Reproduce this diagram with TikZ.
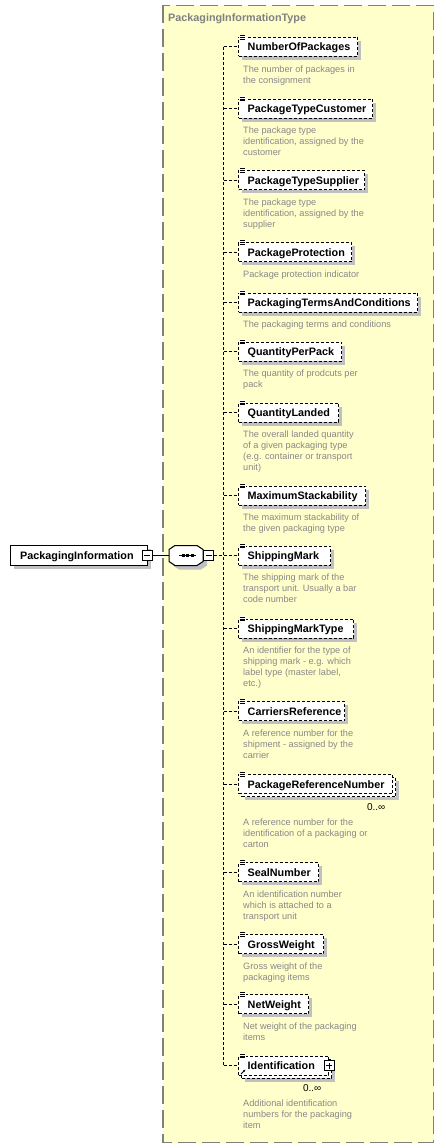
\documentclass[tikz,border=0pt]{standalone}
\usepackage{fontspec}
\setmainfont{Liberation Sans}
\usetikzlibrary{shadows,arrows.meta}
\definecolor{yel}{RGB}{255,255,204}
\definecolor{framec}{RGB}{128,128,128}
\definecolor{shadc}{RGB}{192,192,192}
\definecolor{descc}{RGB}{136,136,136}
\tikzset{
  box/.style={draw=black, line width=1pt, fill=white, inner sep=0pt, minimum height=19pt, anchor=west},
  optbox/.style={box, dash pattern=on 3pt off 2pt},
  shadowed/.style={general shadow={fill=shadc, shadow xshift=3.5pt, shadow yshift=-3.5pt}},
  lbl/.style={font=\fontsize{10.8}{13}\selectfont\bfseries, inner sep=0pt, anchor=base west},
  desctext/.style={font=\fontsize{9.2}{11}\selectfont, text=descc, inner sep=0pt, anchor=base west},
  occ/.style={font=\fontsize{10}{12}\selectfont, inner sep=0pt, anchor=base east},
  conn/.style={line width=1pt, dash pattern=on 3pt off 2pt},
  sqbox/.style={draw=black, line width=1pt, fill=white, minimum size=10pt, inner sep=0pt},
}
\newcommand\iconlines[1]{%
  \fill[white] ([shift={(1,-2.2)}]#1.north west) rectangle ++(7,5);
  \foreach \dy in {-1.3,0.4,2.1}
    \draw[line width=0.7pt] ([shift={(1.5,\dy)}]#1.north west) -- ++(5.5,0);
}
% single optional element: name, y, width, label, description lines
\newcommand\elemA[5]{%
  \node[optbox, shadowed, minimum width=#3pt] (#1) at (238,#2) {};
  \node[lbl] (#1-t) at (247.5,{#2+4}) {#4};
  \iconlines{#1}
  \foreach \dl [count=\i] in {#5}
    \node[desctext] (#1-d\i) at (243,{#2+25+11*\i-11}) {\dl};
  \draw[conn] (#1.west -| trunktop) -- (#1.west);
}
% repeated optional element
\newcommand\elemM[5]{%
  \node[optbox, shadowed, minimum width=#3pt] (#1-b) at (241,{#2+3}) {};
  \node[optbox, minimum width=#3pt] (#1) at (238,#2) {};
  \node[lbl] (#1-t) at (247.5,{#2+4}) {#4};
  \iconlines{#1}
  \node[occ] (#1-o) at ({238+#3-6.5},{#2+26}) {0..∞};
  \foreach \dl [count=\i] in {#5}
    \node[desctext] (#1-d\i) at (243,{#2+41+11*\i-11}) {\dl};
  \draw[conn] (#1.west -| trunktop) -- (#1.west);
}
\begin{document}
\begin{tikzpicture}[x=1pt,y=-1pt]
\useasboundingbox (0,0) rectangle (445,1148);
% type frame
\filldraw[fill=yel, draw=framec, line width=1.5pt, dash pattern=on 18pt off 6pt] (163,5.5) rectangle (433.5,1142.5);
\node[lbl, text=framec] (title) at (168,22) {PackagingInformationType};
% trunk
\coordinate (trunktop) at (223.5,47);
\coordinate (trunkbot) at (223.5,1065.5);
\draw[conn] (trunktop) -- (trunkbot);
% root element
\node[box, shadowed, minimum width=136.7pt, minimum height=20pt] (root) at (10,555.5) {};
\node[lbl] (root-t) at (20,559.5) {PackagingInformation};
\node[sqbox] (rootsq) at (147.2,555.5) {};
\draw[line width=1pt] ([xshift=-3pt]rootsq.center) -- ([xshift=3pt]rootsq.center);
% sequence compositor
\node[inner sep=0pt, minimum width=34pt, minimum height=20pt] (seq) at (186,555.5) {};
\begin{scope}[shift={(4,4)}]
\fill[shadc] (169,549.5)--(175,545.5)--(197,545.5)--(203,549.5)--(203,561.5)--(197,565.5)--(175,565.5)--(169,561.5)--cycle;
\end{scope}
\filldraw[fill=white, draw=black, line width=1pt] (169,549.5)--(175,545.5)--(197,545.5)--(203,549.5)--(203,561.5)--(197,565.5)--(175,565.5)--(169,561.5)--cycle;
\draw[line width=1pt] (179,555.5) -- (196,555.5);
\foreach \dx in {181.5,186,190.5} \fill (\dx,554) rectangle ++(3,3);
\node[sqbox] (seqsq) at (208.5,555.5) {};
\draw[line width=1pt] ([xshift=-3pt]seqsq.center) -- ([xshift=3pt]seqsq.center);
\draw[line width=1pt] (rootsq.east) -- (seq.west);
\draw[conn] (seqsq.east) -- (seqsq.east -| trunktop);
% children
\elemA{e1}{47}{119}{NumberOfPackages}{{The number of packages in},{the consignment}}
\elemA{e2}{108.5}{134}{PackageTypeCustomer}{{The package type},{identification, assigned by the},{customer}}
\elemA{e3}{180}{126}{PackageTypeSupplier}{{The package type},{identification, assigned by the},{supplier}}
\elemA{e4}{252}{113}{PackageProtection}{{Package protection indicator}}
\elemA{e5}{302.5}{179}{PackagingTermsAndConditions}{{The packaging terms and conditions}}
\elemA{e6}{351.5}{103}{QuantityPerPack}{{The quantity of prodcuts per},{pack}}
\elemA{e7}{412.5}{100}{QuantityLanded}{{The overall landed quantity},{of a given packaging type},{(e.g. container or transport},{unit)}}
\elemA{e8}{495.5}{127}{MaximumStackability}{{The maximum stackability of},{the given packaging type}}
\elemA{e9}{555.5}{92}{ShippingMark}{{The shipping mark of the},{transport unit. Usually a bar},{code number}}
\elemA{e10}{628.5}{115}{ShippingMarkType}{{An identifier for the type of},{shipping mark - e.g. which},{label type (master label,},{etc.)}}
\elemA{e11}{711}{106}{CarriersReference}{{A reference number for the},{shipment - assigned by the},{carrier}}
\elemM{e12}{784}{154}{PackageReferenceNumber}{{A reference number for the},{identification of a packaging or},{carton}}
\elemA{e13}{872}{80}{SealNumber}{{An identification number},{which is attached to a},{transport unit}}
\elemA{e14}{944}{85}{GrossWeight}{{Gross weight of the},{packaging items}}
\elemA{e15}{1004}{70}{NetWeight}{{Net weight of the packaging},{items}}
\elemM{e16}{1065.5}{90}{Identification}{{Additional identification},{numbers for the packaging},{item}}
\node[sqbox] (idsq) at (e16.east) {};
\draw[line width=1pt] ([xshift=-3pt]idsq.center) -- ([xshift=3pt]idsq.center);
\draw[line width=1pt] ([yshift=-3pt]idsq.center) -- ([yshift=3pt]idsq.center);
\draw[line width=0.8pt, -{Latex[length=2.2pt,width=2.2pt]}] ([shift={(3,-1.5)}]e16.south west) -- ++(4.5,-4.5);
\end{tikzpicture}
\end{document}
